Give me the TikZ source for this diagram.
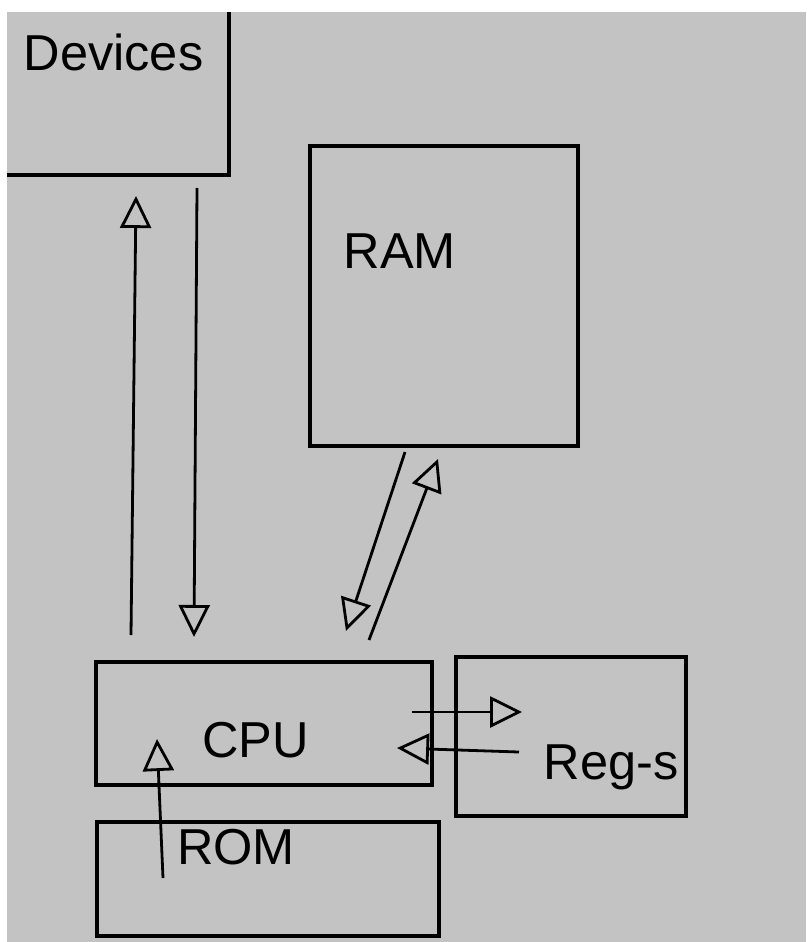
\documentclass[tikz,border=0pt]{standalone}
\usepackage{fontspec}
\setmainfont{Liberation Sans}
\usetikzlibrary{arrows.meta}
\definecolor{bggray}{RGB}{195,195,195}
\begin{document}
\begin{tikzpicture}[x=1pt,y=-1pt,
  box/.style={draw=black, line width=3.2pt, inner sep=0pt, outer sep=0pt, anchor=north west},
  lbl/.style={inner sep=0pt, anchor=base west, font=\fontsize{50.5}{60}\selectfont},
  flow/.style={line width=2.8pt, -{Triangle[open, length=32pt, width=31pt, line width=2.8pt]}}]
\useasboundingbox (0,0) rectangle (806,942);
\fill[white] (0,0) rectangle (806,942);
\fill[bggray] (7,12) rectangle (806,942);
% boxes
\coordinate (devtr) at (229,12);
\coordinate (devbr) at (229,175);
\coordinate (devbl) at (7,175);
\draw[line width=3.2pt] (devtr) -- (devbr) -- (devbl);
\node[box, minimum width=268pt, minimum height=300pt] (ram) at (310,146) {};
\node[box, minimum width=336pt, minimum height=123pt] (cpu) at (96,662) {};
\node[box, minimum width=230pt, minimum height=159pt] (regs) at (456,657) {};
\node[box, minimum width=342pt, minimum height=114pt] (rom) at (97,822) {};
% labels
\node[lbl] (tdev) at (23.5,70.5) {Devices};
\node[lbl] (tram) at (343.5,268) {RAM};
\node[lbl] (tcpu) at (202,757) {CPU};
\node[lbl] (tregs) at (543.5,779) {Reg-s};
\node[lbl] (trom) at (177,864) {ROM};
% arrow ends
\coordinate (a1s) at (131,635); \coordinate (a1e) at (136,196);
\coordinate (a2s) at (197,188); \coordinate (a2e) at (194,637);
\coordinate (a3s) at (405,452); \coordinate (a3e) at (346,631);
\coordinate (a4s) at (369,640); \coordinate (a4e) at (438,459);
\coordinate (a5s) at (412,712); \coordinate (a5e) at (522,712);
\coordinate (a6s) at (519,752); \coordinate (a6e) at (397,748);
\coordinate (a7s) at (163,878); \coordinate (a7e) at (157,739);
\draw[flow] (a1s) -- (a1e);
\draw[flow] (a2s) -- (a2e);
\draw[flow] (a3s) -- (a3e);
\draw[flow] (a4s) -- (a4e);
\draw[flow] (a5s) -- (a5e);
\draw[flow] (a6s) -- (a6e);
\draw[flow] (a7s) -- (a7e);
\end{tikzpicture}
\end{document}
